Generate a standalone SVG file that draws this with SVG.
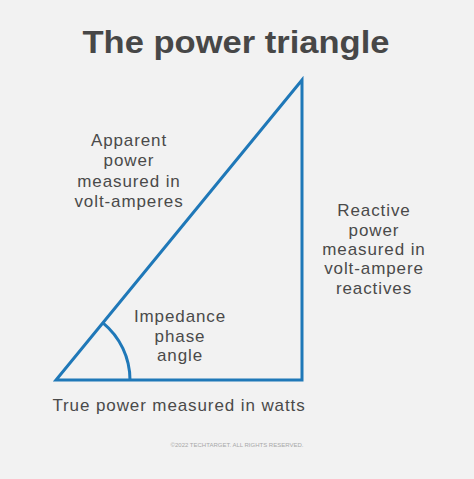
<svg xmlns="http://www.w3.org/2000/svg" width="474" height="479" viewBox="0 0 474 479">
<style>
.t{font-family:"Liberation Sans",Arial,sans-serif;font-size:17px;letter-spacing:0.9px;fill:#4a4a4a;text-anchor:middle}
.title{font-family:"Liberation Sans",Arial,sans-serif;font-weight:bold;font-size:32px;fill:#474747;text-anchor:middle}
.ln{fill:none;stroke:#1f78b8;stroke-width:3}
.copy{font-family:"Liberation Sans",Arial,sans-serif;font-size:6px;fill:#a8a8a8;text-anchor:middle}
</style>
<rect width="474" height="479" fill="#f2f2f2"/>
<text class="title" x="236" y="53" textLength="307" lengthAdjust="spacingAndGlyphs">The power triangle</text>
<g id="connectors">
<path id="triangle" class="ln" d="M56 380 L302 380 L302 80 Z" stroke-linejoin="miter"/>
<path id="angle-arc" class="ln" d="M130 380 A74 74 0 0 0 102.9 322.8"/>
</g>
<g id="apparent">
<text class="t" x="129" y="146">Apparent</text>
<text class="t" x="129" y="166">power</text>
<text class="t" x="129" y="187">measured in</text>
<text class="t" x="129" y="207">volt-amperes</text>
</g>
<g id="reactive">
<text class="t" x="374" y="216">Reactive</text>
<text class="t" x="374" y="236">power</text>
<text class="t" x="374" y="255">measured in</text>
<text class="t" x="374" y="274">volt-ampere</text>
<text class="t" x="374" y="294">reactives</text>
</g>
<g id="impedance">
<text class="t" x="180" y="322">Impedance</text>
<text class="t" x="180" y="342">phase</text>
<text class="t" x="180" y="361">angle</text>
</g>
<g id="true">
<text class="t" x="179" y="411">True power measured in watts</text>
</g>
<text class="copy" x="237" y="447">©2022 TECHTARGET. ALL RIGHTS RESERVED.</text>
</svg>
